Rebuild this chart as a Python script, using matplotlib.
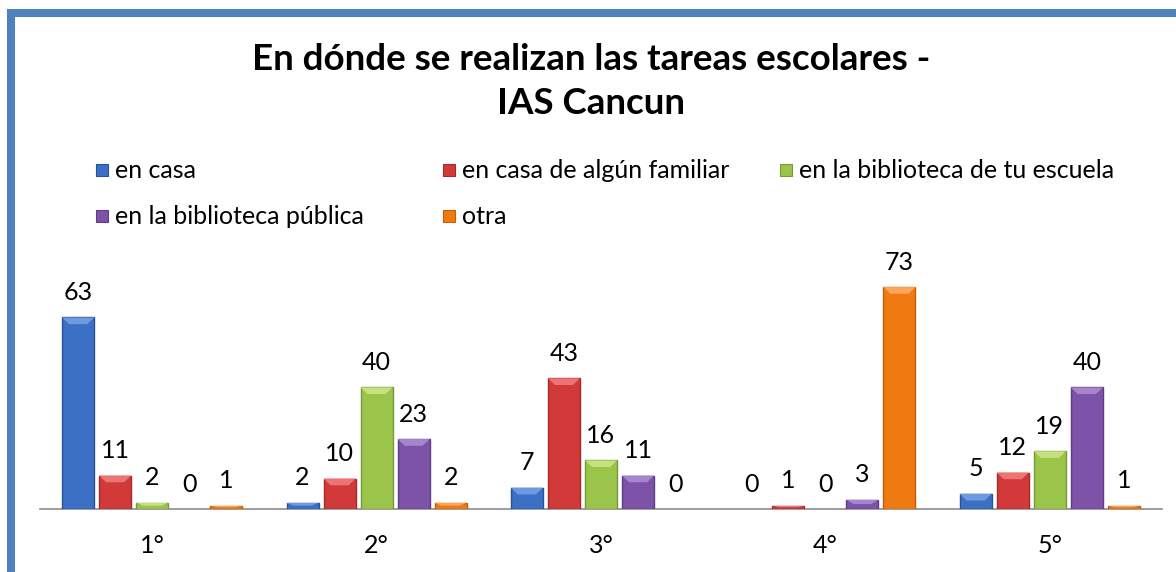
import numpy as np
import matplotlib
matplotlib.use("Agg")
import matplotlib.pyplot as plt
from matplotlib.patches import Rectangle, Polygon

plt.rcParams['font.family'] = ['Lato', 'DejaVu Sans']

# Data
grados = ["1°", "2°", "3°", "4°", "5°"]
series = ["en casa", "en casa de algún familiar", "en la biblioteca de tu escuela",
          "en la biblioteca pública", "otra"]
en_casa = [63, 2, 7, 0, 5]
casa_familiar = [11, 10, 43, 1, 12]
biblio_escuela = [2, 40, 16, 0, 19]
biblio_publica = [0, 23, 11, 3, 40]
otra = [1, 2, 0, 73, 1]
valores = [en_casa, casa_familiar, biblio_escuela, biblio_publica, otra]

colores = ["#3B70C4", "#D23A3A", "#9BC44A", "#7D52A9", "#F07A12"]
bordes = ["#2A5395", "#A52A2A", "#77993A", "#5E3D82", "#C05E0A"]
claros = ["#6E9BE0", "#EC7474", "#C4E27E", "#A586CC", "#FBA65A"]

W, H = 1176, 572
fig = plt.figure(figsize=(W / 100, H / 100), dpi=100)
ax = fig.add_axes([40 / W, 1 - 509 / H, 1122 / W, 259 / H])

x = np.arange(len(grados))
paso, ancho = 0.165, 0.143
for i, (vals, c, b, cl) in enumerate(zip(valores, colores, bordes, claros)):
    xs = x + (i - 2) * paso
    lws = [1.0 if v > 0 else 0 for v in vals]
    bars = ax.bar(xs, vals, width=ancho, color=c, edgecolor=b, linewidth=lws, zorder=3)
    # bevel-ish highlight on top of each bar
    for rect, v in zip(bars, vals):
        if v <= 0:
            continue
        x0, w = rect.get_x(), rect.get_width()
        dh = min(2.2, v * 0.45)
        ax.add_patch(Polygon([(x0, v), (x0 + w, v), (x0 + w * 0.78, v - dh), (x0 + w * 0.22, v - dh)],
                             closed=True, facecolor=cl, edgecolor='none', zorder=4))
    for xi, v in zip(xs, vals):
        ax.annotate(str(v), (xi, v), xytext=(0, 18), textcoords='offset points',
                    ha='center', va='center', fontsize=18, color='black')

ax.set_xlim(-0.5, 4.5)
ax.set_ylim(0, 85.2)
ax.set_xticks(x)
ax.set_xticklabels(grados, fontsize=18)
ax.tick_params(axis='x', length=0, pad=18)
ax.set_yticks([])
for s in ['top', 'left', 'right']:
    ax.spines[s].set_visible(False)
ax.spines['bottom'].set_color('#8C8C8C')
ax.spines['bottom'].set_linewidth(1.2)
ax.patch.set_alpha(0)

# Title
fig.text(591 / W, 1 - 60 / H, "En dónde se realizan las tareas escolares -",
         ha='center', va='center', fontsize=26.5, fontweight='bold')
fig.text(591 / W, 1 - 103 / H, "IAS Cancun",
         ha='center', va='center', fontsize=26.5, fontweight='bold')

# Legend (fixed column layout)
cols = [96, 443, 780]
rows = [170, 216]
for k, (lab, c, b) in enumerate(zip(series, colores, bordes)):
    cx = cols[k % 3]
    cy = rows[k // 3]
    fig.patches.append(Rectangle((cx / W, 1 - (cy + 6) / H), 12 / W, 12 / H,
                                 transform=fig.transFigure, facecolor=c,
                                 edgecolor=b, linewidth=0.8))
    fig.text((cx + 19) / W, 1 - cy / H, lab, ha='left', va='center', fontsize=18)

# Blue frame
fig.patches.append(Rectangle((11 / W, -0.1), 1.2, 1 - 13 / H + 0.1,
                             transform=fig.transFigure, fill=False,
                             edgecolor='#4F81BD', linewidth=5.8))

fig.savefig("out.png", dpi=100)
